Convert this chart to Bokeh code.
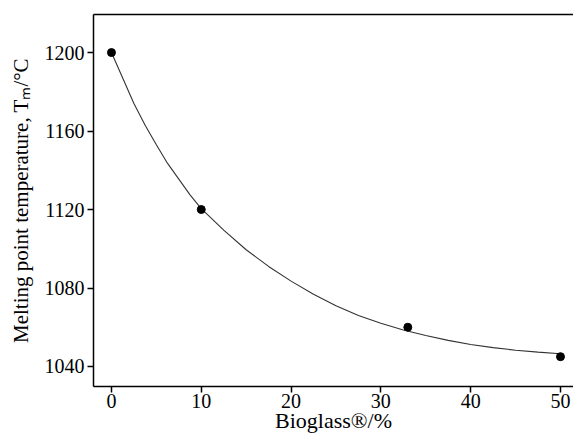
from bokeh.plotting import figure
from bokeh.models import LinearAxis, Range1d, FixedTicker
from bokeh.embed import file_html
from bokeh.resources import INLINE

# measured points
bioglass = [0, 10, 33, 50]
melting_t = [1200, 1120, 1060, 1045]

# fitted curve
curve_x = [0, 1.25, 2.5, 3.75, 5, 6.25, 7.5, 8.75, 10, 12.5, 15, 17.5, 20,
           22.5, 25, 27.5, 30, 32.5, 35, 37.5, 40, 42.5, 45, 47.5, 50]
curve_y = [1200, 1187, 1174, 1163, 1153, 1143.5, 1135.5, 1127.5, 1120.5,
           1109.5, 1099.5, 1091, 1083.5, 1076.8, 1071, 1066, 1062, 1058.6,
           1055.8, 1053.3, 1051.2, 1049.6, 1048.3, 1047.3, 1046.5]

x_ticks = [0, 10, 20, 30, 40, 50]
y_ticks = [1040, 1080, 1120, 1160, 1200]

FONT = "Liberation Serif"

p = figure(width=573, height=438, output_backend="svg", toolbar_location=None,
           x_range=Range1d(-2.0, 51.45), y_range=Range1d(1029.8, 1219.4),
           min_border_left=93, min_border_right=0, min_border_top=14,
           min_border_bottom=52)
p.outline_line_color = None
p.grid.grid_line_color = None
p.background_fill_color = "white"
p.border_fill_color = "white"

p.line(curve_x, curve_y, line_color="#333333", line_width=1.1)
p.scatter(bioglass, melting_t, size=8, color="black")

for ax in (p.xaxis[0], p.yaxis[0]):
    ax.axis_line_width = 1.5
    ax.axis_line_color = "black"
    ax.major_tick_line_color = "black"
    ax.major_tick_line_width = 1.5
    ax.major_tick_in = 0
    ax.major_tick_out = 6
    ax.minor_tick_line_color = None
    ax.major_label_text_font = FONT
    ax.major_label_text_font_size = "20px"
    ax.major_label_text_color = "black"
    ax.axis_label_text_font = FONT
    ax.axis_label_text_font_size = "21px"
    ax.axis_label_text_font_style = "normal"
    ax.axis_label_text_color = "black"
    ax.major_label_standoff = 3

p.xaxis[0].ticker = FixedTicker(ticks=x_ticks)
p.yaxis[0].ticker = FixedTicker(ticks=y_ticks)
p.xaxis[0].axis_label = "Bioglass®/%"
p.xaxis[0].axis_label_text_font_size = "22px"
p.yaxis[0].axis_label = "Melting point temperature, Tₘ/°C"
p.xaxis[0].major_label_standoff = 1
p.xaxis[0].axis_label_standoff = -3
p.yaxis[0].axis_label_standoff = 9

top = LinearAxis(ticker=FixedTicker(ticks=[]), major_label_text_font_size="0px",
                 axis_line_width=1.5, axis_line_color="black",
                 major_tick_line_color=None, minor_tick_line_color=None)
p.add_layout(top, "above")

open("out.html", "w").write(file_html(p, INLINE))
